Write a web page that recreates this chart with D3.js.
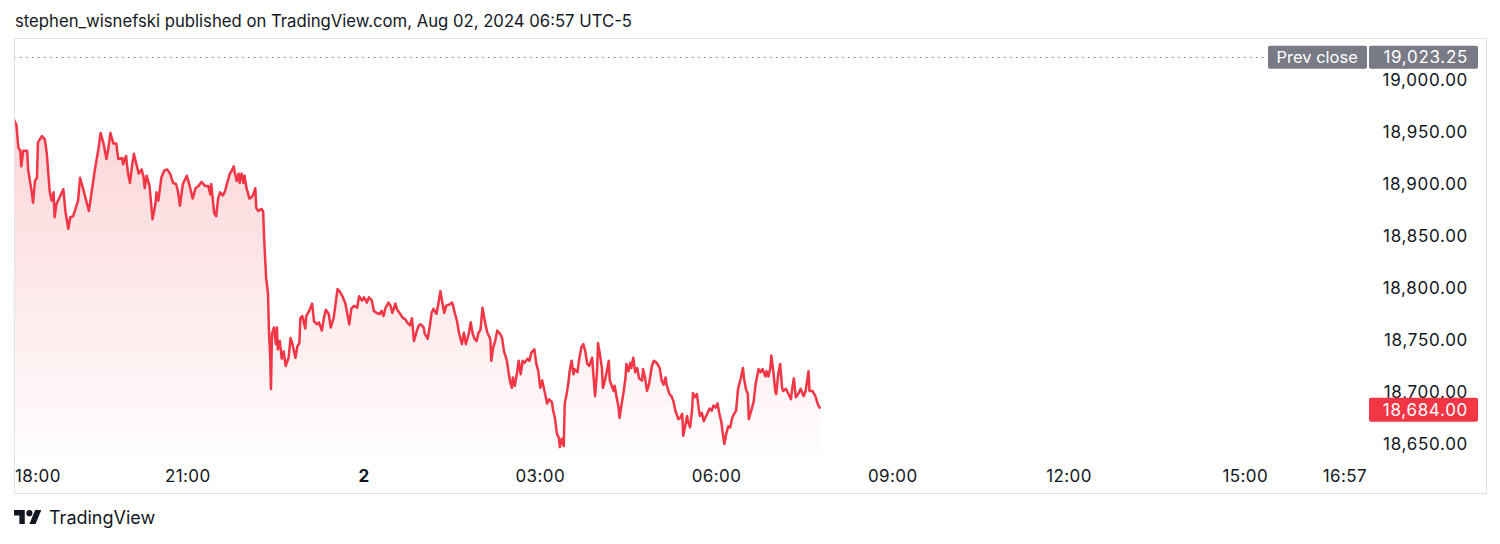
<!DOCTYPE html>
<html><head><meta charset="utf-8">
<script src="https://cdn.jsdelivr.net/npm/d3@7"></script>
<style>
html,body{margin:0;padding:0;background:#fff;}
svg{display:block;font-family:Inter,"Noto Sans",Roboto,sans-serif;}
</style></head><body>
<svg id="c" width="1500" height="544"></svg>
<script>
// minutes after 18:00 (Aug 01, 2024)
const minutesFromStart = [0,5,7,9,10,12,16,17,21,22,24,26,27,31,34,36,39,41,43,44,46,50,53,55,58,60,63,68,70,73,79,82,85,89,91,94,97,99,101,104,107,109,113,114,117,119,121,123,125,127,130,133,135,136,138,141,144,147,148,150,153,156,159,162,165,168,170,172,175,179,182,185,188,191,194,198,201,203,204,207,209,211,213,216,218,220,223,225,227,228,230,232,233,235,237,238,240,243,245,247,249,250,252,255,257,258,260,262,263,264,265,266,268,270,271,272,274,276,278,280,283,285,287,290,292,294,295,297,300,301,304,307,309,312,314,317,319,321,324,326,329,331,333,335,338,341,343,345,347,350,353,355,358,360,363,365,368,370,373,376,378,380,382,385,387,389,392,394,397,400,402,404,407,409,411,414,416,418,421,422,425,427,429,431,434,436,438,440,442,444,447,450,451,453,455,457,460,462,464,467,469,471,473,475,477,479,481,484,486,489,490,492,494,496,499,501,503,506,507,509,511,512,514,516,518,520,522,524,527,529,531,534,536,538,540,542,545,547,549,552,553,555,557,559,560,562,564,565,567,569,570,572,574,575,578,580,582,584,586,588,590,593,594,596,598,599,601,603,604,606,608,610,611,613,615,616,618,620,621,623,625,627,628,630,632,633,635,637,639,641,644,645,647,649,651,654,656,659,662,664,666,668,669,672,674,676,678,681,683,685,686,688,690,691,693,695,696,698,700,702,703,705,707,708,711,713,715,717,719,721,723,725,726,728,730,732,734,736,738,740,742,745,747,748,750,752,753,756,758,760,763,765,767,770,771,773,775,776,778,780,781,783,785,787,788,791,793,796,797,799,801,804,806,809,811,814,815,818,821,822,824,826];
const prices = [18967,18957,18935,18932,18917,18932,18932,18914,18890,18882,18903,18906,18940,18946,18943,18930,18893,18884,18892,18868,18881,18889,18895,18874,18857,18868,18869,18884,18906,18896,18874,18893,18913,18935,18949,18939,18924,18935,18949,18939,18939,18924,18925,18919,18927,18910,18901,18917,18929,18921,18910,18914,18906,18896,18908,18898,18866,18881,18892,18884,18906,18913,18914,18910,18901,18900,18893,18879,18900,18908,18898,18886,18896,18898,18902,18898,18898,18890,18900,18872,18869,18886,18892,18889,18893,18900,18910,18913,18917,18911,18903,18910,18901,18910,18901,18908,18896,18886,18887,18890,18896,18877,18874,18876,18874,18848,18810,18794,18756,18739,18703,18756,18762,18746,18762,18741,18749,18732,18739,18725,18733,18752,18746,18733,18744,18747,18771,18773,18761,18773,18778,18785,18768,18765,18767,18759,18771,18779,18775,18762,18771,18785,18799,18797,18792,18785,18775,18765,18780,18783,18781,18792,18788,18791,18786,18791,18788,18778,18776,18775,18778,18773,18781,18786,18783,18776,18785,18779,18775,18771,18770,18767,18764,18771,18749,18759,18764,18765,18762,18756,18751,18762,18776,18780,18775,18785,18797,18786,18776,18783,18784,18786,18783,18775,18768,18757,18746,18757,18746,18756,18767,18756,18751,18749,18757,18760,18781,18765,18757,18751,18730,18743,18749,18759,18756,18752,18739,18730,18723,18711,18704,18714,18706,18717,18730,18717,18730,18728,18732,18730,18738,18741,18727,18720,18704,18711,18698,18689,18693,18690,18683,18675,18660,18656,18647,18655,18648,18689,18698,18711,18720,18730,18717,18722,18719,18733,18743,18746,18739,18727,18725,18733,18720,18696,18720,18747,18736,18723,18704,18711,18720,18730,18711,18706,18701,18706,18695,18685,18675,18688,18699,18713,18727,18720,18728,18723,18733,18719,18723,18713,18711,18722,18714,18701,18707,18725,18730,18728,18723,18711,18707,18714,18707,18698,18696,18691,18682,18674,18675,18679,18658,18667,18677,18671,18666,18682,18699,18695,18698,18683,18677,18680,18672,18674,18680,18684,18682,18687,18685,18689,18679,18671,18663,18650,18660,18667,18666,18675,18679,18682,18703,18714,18723,18714,18703,18698,18674,18684,18691,18708,18722,18719,18722,18715,18720,18715,18723,18735,18720,18701,18698,18717,18727,18704,18701,18703,18699,18693,18701,18713,18695,18699,18703,18696,18701,18720,18701,18701,18696,18693,18687,18684];
const priceTicks = [19000,18950,18900,18850,18800,18750,18700,18650];
const timeTickMinutes = [0,180,360,540,720,900,1080,1260,1377];
const timeTickLabels = ["18:00","21:00","2","03:00","06:00","09:00","12:00","15:00","16:57"];
const boldTimeLabels = ["2"];
const prevClose = 19023.25;
const lastPrice = 18684.00;
const headerText = "stephen_wisnefski published on TradingView.com, Aug 02, 2024 06:57 UTC-5";
const brandText = "TradingView";

const svg = d3.select("#c");
const pane = {l:14, t:39, r:1368, b:458};
const x = d3.scaleLinear().domain([0, 1380]).range([11.5, 11.5 + 23*58.75]);
const y = d3.scaleLinear().domain([18650, 19000]).range([444, 80]);
const fmt = d3.format(",.2f");
const red = "#f23645", ink = "#131722", grey = "#787b86";
const axisFont = 17, axisLS = 0.7;

svg.append("text").attr("x",15).attr("y",27).attr("font-size",16.7).attr("fill",ink).text(headerText);

// frame
svg.append("rect").attr("x",14.5).attr("y",38.5).attr("width",1472).attr("height",455)
  .attr("fill","none").attr("stroke","#e0e3eb").attr("stroke-width",1);

const defs = svg.append("defs");
defs.append("clipPath").attr("id","pclip").append("rect")
  .attr("x",pane.l+1).attr("y",pane.t).attr("width",pane.r-pane.l-1).attr("height",pane.b-pane.t);
const data = minutesFromStart.map((m,i)=>({m, p:prices[i]}));
const g = defs.append("linearGradient").attr("id","ag").attr("gradientUnits","userSpaceOnUse")
  .attr("x1",0).attr("x2",0).attr("y1",y(d3.max(prices))).attr("y2",pane.b);
g.append("stop").attr("offset",0).attr("stop-color",red).attr("stop-opacity",0.21);
g.append("stop").attr("offset",1).attr("stop-color",red).attr("stop-opacity",0.01);

const plot = svg.append("g").attr("clip-path","url(#pclip)");
plot.append("path").datum(data).attr("fill","url(#ag)")
  .attr("d", d3.area().x(d=>x(d.m)).y0(pane.b).y1(d=>y(d.p)));
plot.append("path").datum(data).attr("fill","none").attr("stroke",red).attr("stroke-width",2.5)
  .attr("stroke-linejoin","round")
  .attr("d", d3.line().x(d=>x(d.m)).y(d=>y(d.p)));

// prev close dotted line
plot.append("line").attr("x1",pane.l).attr("x2",1267).attr("y1",Math.round(y(prevClose))+1.5).attr("y2",Math.round(y(prevClose))+1.5)
  .attr("stroke",grey).attr("stroke-width",1).attr("stroke-dasharray","1.5,4.5");

// price axis labels
const axisG = svg.append("g");
axisG.selectAll("text.pt").data(priceTicks).join("text").attr("class","pt")
  .attr("x",1468).attr("y",d=>y(d)).attr("dy","0.36em").attr("text-anchor","end")
  .attr("font-size",axisFont).attr("letter-spacing",axisLS).attr("fill",ink).text(d=>fmt(d));

// prev close labels
const pcY = y(prevClose) + 1.5;
svg.append("rect").attr("x",1268).attr("y",pcY-11.5).attr("width",99).attr("height",23).attr("rx",2).attr("fill",grey);
svg.append("text").attr("x",1276.5).attr("y",pcY).attr("dy","0.36em").attr("font-size",16.5).attr("fill","#fff").text("Prev close");
svg.append("rect").attr("x",1369).attr("y",pcY-11.5).attr("width",109).attr("height",23).attr("rx",2).attr("fill",grey);
svg.append("text").attr("x",1468).attr("y",pcY).attr("dy","0.36em").attr("text-anchor","end")
  .attr("font-size",axisFont).attr("letter-spacing",axisLS).attr("fill","#fff").text(fmt(prevClose));

// last price label
const lpY = y(lastPrice) + 1;
svg.append("rect").attr("x",1369).attr("y",lpY-12).attr("width",109).attr("height",24).attr("rx",2).attr("fill",red);
svg.append("text").attr("x",1468).attr("y",lpY).attr("dy","0.36em").attr("text-anchor","end")
  .attr("font-size",axisFont).attr("letter-spacing",axisLS).attr("fill","#fff").text(fmt(lastPrice));

// time axis labels (clamped to pane)
const tg = svg.append("g");
timeTickMinutes.forEach((m,i)=>{
  const t = tg.append("text").attr("y",476).attr("dy","0.36em").attr("font-size",axisFont).attr("letter-spacing",0.4).attr("fill",ink)
    .attr("font-weight", boldTimeLabels.includes(timeTickLabels[i]) ? 700 : 400).text(timeTickLabels[i]);
  const w = t.node().getComputedTextLength();
  let cx = x(m);
  cx = Math.max(pane.l + 1 + w/2, Math.min(pane.r - 1 - w/2, cx));
  t.attr("x", cx).attr("text-anchor","middle");
});

// brand
const logo = svg.append("g").attr("transform","translate(14,507) scale(0.77)").attr("fill",ink);
logo.append("path").attr("d","M14 22H7V11H0V4h14v18zM28 22h-8l7.5-18h8L28 22z");
logo.append("circle").attr("cx",20).attr("cy",8).attr("r",4);
svg.append("text").attr("x",49).attr("y",524).attr("font-size",18).attr("fill",ink).text(brandText);
</script>
</body></html>
